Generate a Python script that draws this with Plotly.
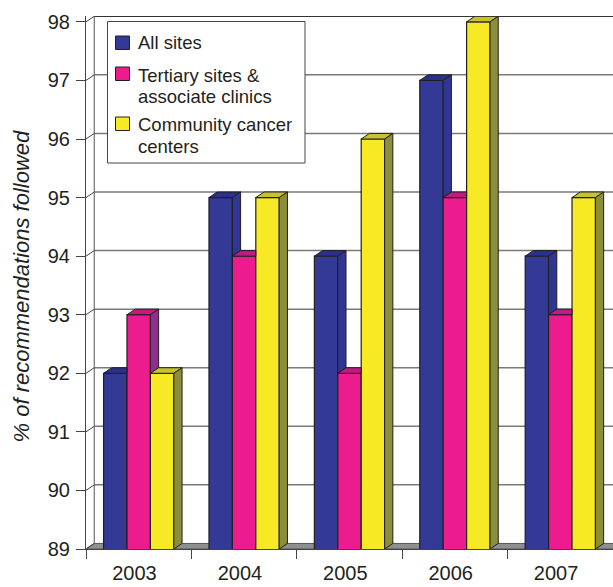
import plotly.graph_objects as go

# ---- data ----
years = ["2003", "2004", "2005", "2006", "2007"]
series_names = ["All sites", "Tertiary sites &<br>associate clinics", "Community cancer<br>centers"]
all_sites = [92, 95, 94, 97, 94]
tertiary = [93, 94, 92, 95, 93]
community = [92, 95, 96, 98, 95]
y_ticks = [89, 90, 91, 92, 93, 94, 95, 96, 97, 98]

# ---- styling ----
front_colors = ["#333A96", "#EC1C8E", "#F7EA24"]
top_colors = ["#2B318A", "#C31A82", "#C9C22E"]
side_colors = ["#2F3694", "#8E2E8E", "#8D8E3A"]
outline = "#231F20"
FONT = "Liberation Sans, Arial, sans-serif"

W, H = 613, 587
ML, MR, MT, MB = 86, 0, 16, 38
PW, PH = W - ML - MR, H - MT - MB


def px_x(px):
    return (px - ML) / PW


def px_y(py):
    return (H - MB - py) / PH


BASE = 89
TOP = 98
n = len(years)
w = 0.2222           # bar width (category units)
dxu = 0.078          # depth offset x (category units)
dyu = 0.095          # depth offset y (value units)
offsets = [-w, 0.0, w]
series = [all_sites, tertiary, community]

fig = go.Figure()
xs = list(range(n))
for k, vals in enumerate(series):
    fig.add_trace(go.Bar(
        x=xs, y=vals, name=series_names[k].replace("<br>", " "), offsetgroup=str(k),
        marker=dict(color=front_colors[k], line=dict(color=outline, width=1.2)),
    ))

shapes = []
xmin, xmax = -0.5, n - 0.5

# floor
shapes.append(dict(type="path", xref="x", yref="y", layer="below",
                   path=f"M{xmin},{BASE} L{xmax+0.1},{BASE} L{xmax+0.1},{BASE+dyu} L{xmin+dxu},{BASE+dyu} Z",
                   fillcolor="#8E8F91", line=dict(color="#555555", width=1)))
# back wall gridlines
for v in y_ticks[1:]:
    shapes.append(dict(type="line", xref="x", yref="y", layer="below",
                       x0=xmin + dxu, x1=xmax + 0.1, y0=v + dyu, y1=v + dyu,
                       line=dict(color="#333333" if v == TOP else "#7A7A7A", width=1.5)))
# back wall left edge and connectors
shapes.append(dict(type="line", xref="x", yref="y", layer="below",
                   x0=xmin + dxu, x1=xmin + dxu, y0=BASE + dyu, y1=TOP + dyu,
                   line=dict(color="#555555", width=1)))
for v in y_ticks:
    shapes.append(dict(type="line", xref="x", yref="y", layer="below",
                       x0=xmin, x1=xmin + dxu, y0=v, y1=v + dyu,
                       line=dict(color="#444444", width=1)))

# bar tops and sides (3-D look)
for i in range(n):
    for k in range(3):
        h = series[k][i]
        xl = i + offsets[k] - w / 2
        xr = xl + w
        nxt = series[k + 1][i] if k < 2 else None
        if nxt is not None and nxt > h:
            top = f"M{xl},{h} L{xr},{h} L{xr},{h+dyu} L{xl+dxu},{h+dyu} Z"
        else:
            top = f"M{xl},{h} L{xr},{h} L{xr+dxu},{h+dyu} L{xl+dxu},{h+dyu} Z"
        shapes.append(dict(type="path", xref="x", yref="y", layer="above", path=top,
                           fillcolor=top_colors[k], line=dict(color=outline, width=1)))
        if nxt is None:
            side = f"M{xr},{BASE} L{xr},{h} L{xr+dxu},{h+dyu} L{xr+dxu},{BASE+dyu} Z"
        elif nxt < h:
            side = f"M{xr},{nxt} L{xr},{h} L{xr+dxu},{h+dyu} L{xr+dxu},{nxt+dyu} Z"
        else:
            side = None
        if side:
            shapes.append(dict(type="path", xref="x", yref="y", layer="above", path=side,
                               fillcolor=side_colors[k], line=dict(color=outline, width=1)))

# ---- legend box (drawn manually to match the layout) ----
annotations = []
shapes.append(dict(type="rect", xref="paper", yref="paper", layer="above",
                   x0=px_x(107.5), x1=px_x(305), y0=px_y(163), y1=px_y(21.5),
                   fillcolor="white", line=dict(color="#444444", width=1)))
sq_tops = [36, 67, 117]
line_mid = [[42.0], [75.2, 96.8], [124.5, 146.2]]
LEG_FS = 18.5
for k in range(3):
    shapes.append(dict(type="rect", xref="paper", yref="paper", layer="above",
                       x0=px_x(115.5), x1=px_x(129.5), y0=px_y(sq_tops[k] + 13.5), y1=px_y(sq_tops[k]),
                       fillcolor=front_colors[k], line=dict(color=outline, width=1)))
    for j, txt in enumerate(series_names[k].split("<br>")):
        annotations.append(dict(text=txt, xref="paper", yref="paper",
                                x=px_x(136), y=px_y(line_mid[k][j]),
                                xanchor="left", yanchor="middle", showarrow=False,
                                font=dict(size=LEG_FS, family=FONT, color="#231F20")))

annotations.append(dict(text="<i>% of recommendations followed</i>", textangle=-90,
                        xref="paper", yref="paper", x=px_x(21), y=px_y(286.5),
                        xanchor="center", yanchor="middle", showarrow=False,
                        font=dict(size=22, family=FONT, color="#231F20")))

fig.update_layout(
    width=W, height=H,
    margin=dict(l=ML, r=MR, t=MT, b=MB, autoexpand=False),
    paper_bgcolor="white", plot_bgcolor="white",
    barmode="group", bargap=1 - 3 * w, bargroupgap=0,
    font=dict(family=FONT, color="#231F20"),
    shapes=shapes,
    showlegend=False,
    annotations=annotations,
)
fig.update_xaxes(range=[xmin, xmax], tickvals=[i - 0.04 for i in xs], ticktext=years,
                 ticks="outside", ticklen=6, tickcolor="rgba(0,0,0,0)",
                 tickfont=dict(size=20), showgrid=False, zeroline=False, automargin=False,
                 showline=True, linecolor="#444444", linewidth=1,
                 minor=dict(tickvals=[xmin + j for j in range(n + 1)], ticks="outside",
                            ticklen=9, tickcolor="#444444", tickwidth=1))
fig.update_yaxes(range=[BASE, TOP + 0.1], tickvals=y_ticks, ticks="outside", ticklen=9,
                 tickcolor="#444444", tickfont=dict(size=20), ticklabelstandoff=2,
                 showgrid=False, zeroline=False, automargin=False,
                 showline=True, linecolor="#444444", linewidth=1)

fig.write_html("out.html")
